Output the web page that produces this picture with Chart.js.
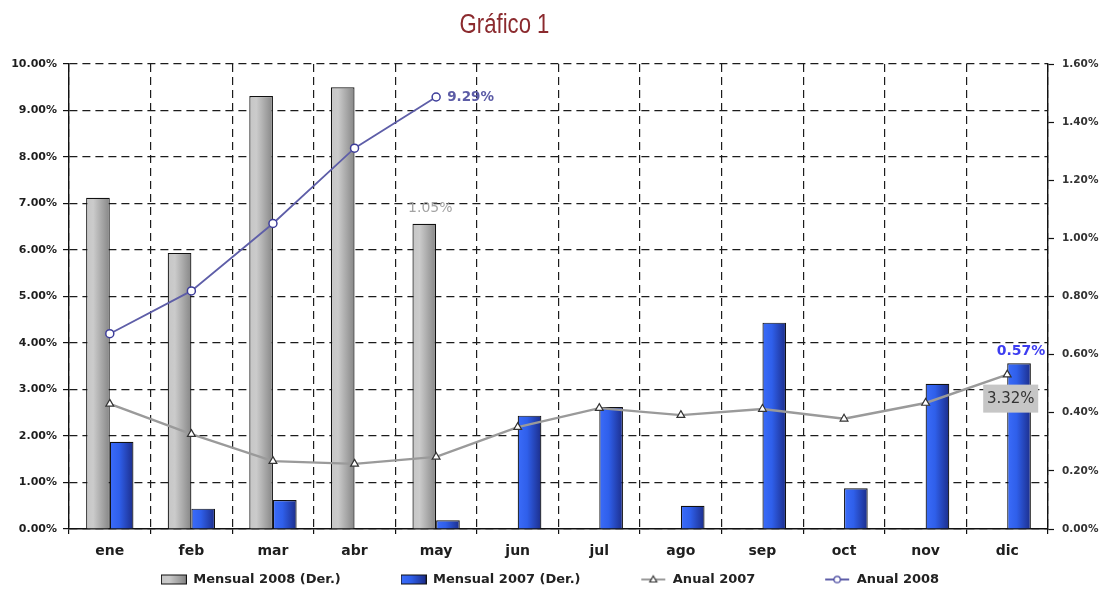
<!DOCTYPE html>
<html>
<head>
<meta charset="utf-8">
<script src="https://cdn.jsdelivr.net/npm/chart.js@4.4.1/dist/chart.umd.min.js"></script>
<style>
  html, body { margin: 0; padding: 0; background: #ffffff; }
  #wrap { position: relative; width: 1100px; height: 590px; }
  #c { position: absolute; left: 0; top: 0; }
  #title {
    position: absolute; left: 0; top: 6px; width: 1009px;
    text-align: center; line-height: 36px;
    font-family: "Liberation Sans Narrow", "Arial Narrow", sans-serif;
    font-size: 27px; color: #8b2a2e;
  }
</style>
</head>
<body>
<div id="wrap">
  <canvas id="c" width="1100" height="590"></canvas>
  <div id="title">Gráfico 1</div>
</div>
<script>
// Months on the category axis
const months = ['ene', 'feb', 'mar', 'abr', 'may', 'jun', 'jul', 'ago', 'sep', 'oct', 'nov', 'dic'];

// Monthly inflation (right axis, %)
const mensual2008 = [1.14, 0.95, 1.49, 1.52, 1.05, null, null, null, null, null, null, null];
const mensual2007 = [0.30, 0.07, 0.10, 0.00, 0.03, 0.39, 0.42, 0.08, 0.71, 0.14, 0.50, 0.57];

// Twelve-month inflation (left axis, %)
const anual2007 = [2.69, 2.04, 1.46, 1.40, 1.55, 2.19, 2.60, 2.45, 2.58, 2.37, 2.71, 3.32];
const anual2008 = [4.20, 5.12, 6.57, 8.19, 9.29, null, null, null, null, null, null, null];

// Axis ranges and tick steps
const leftAxis = { min: 0, max: 10, step: 1 };
const rightAxis = { min: 0, max: 1.6, step: 0.2 };

// Series names in legend order
const seriesNames = ['Mensual 2008 (Der.)', 'Mensual 2007 (Der.)', 'Anual 2007', 'Anual 2008'];

const CAT_PCT = 0.58;
const FONT = '"DejaVu Sans", Verdana, sans-serif';
const pct = v => v.toFixed(2) + '%';

// Horizontal shading across each bar, side -1 = left bar of the pair, +1 = right bar
function barShade(stops, side) {
  return (ctx) => {
    const chart = ctx.chart;
    const area = chart.chartArea;
    if (!area || ctx.type !== 'data' || !chart.scales.x) return stops[0][1];
    const center = chart.scales.x.getPixelForValue(ctx.dataIndex);
    const w = (area.right - area.left) / months.length * CAT_PCT / 2;
    const x0 = side < 0 ? center - w : center;
    const g = chart.ctx.createLinearGradient(x0, 0, x0 + w, 0);
    stops.forEach(s => g.addColorStop(s[0], s[1]));
    return g;
  };
}
const grayStops = [[0, '#c6c6c6'], [0.3, '#cbcbcb'], [1, '#868686']];
const blueStops = [[0, '#3b6cfa'], [0.4, '#2f5fea'], [1, '#1c2d8a']];

// Small legend swatches
function swatch(draw) {
  const c = document.createElement('canvas');
  c.width = 26; c.height = 12;
  draw(c.getContext('2d'));
  return c;
}
function barSwatch(stops) {
  return swatch(g => {
    const gr = g.createLinearGradient(1, 0, 25, 0);
    stops.forEach(s => gr.addColorStop(s[0], s[1]));
    g.fillStyle = gr; g.fillRect(1, 2, 24, 8);
    g.strokeStyle = '#111'; g.lineWidth = 1; g.strokeRect(0.5, 1.5, 25, 9);
  });
}
function lineSwatch(color, marker, edge) {
  return swatch(g => {
    g.strokeStyle = color; g.lineWidth = 2;
    g.beginPath(); g.moveTo(1, 6); g.lineTo(25, 6); g.stroke();
    g.fillStyle = '#fff'; g.strokeStyle = edge; g.lineWidth = 1.2;
    g.beginPath();
    if (marker === 'triangle') { g.moveTo(13, 2.5); g.lineTo(16.5, 8.5); g.lineTo(9.5, 8.5); g.closePath(); }
    else { g.arc(13, 6, 3.2, 0, Math.PI * 2); }
    g.fill(); g.stroke();
  });
}
const legendIcons = [
  barSwatch(grayStops),
  barSwatch(blueStops),
  lineSwatch('#9a9a9a', 'triangle', '#333'),
  lineSwatch('#5e5ea8', 'circle', '#3d3d9a')
];
const legendGaps = [11, 11, 13, 0];

// Value tags next to selected marks
const valueTags = {
  id: 'valueTags',
  afterDatasetsDraw(chart) {
    const ctx = chart.ctx;
    const el = (ds, i) => chart.getDatasetMeta(ds).data[i];
    ctx.save();
    ctx.textBaseline = 'middle';

    const p08 = el(3, 4);
    ctx.font = 'bold 13.5px ' + FONT;
    ctx.fillStyle = '#5c5ca6';
    ctx.textAlign = 'left';
    ctx.fillText(pct(anual2008[4]), p08.x + 11, p08.y);

    const bMay = el(0, 4);
    ctx.font = '14px ' + FONT;
    ctx.fillStyle = '#a3a3a3';
    ctx.textAlign = 'center';
    ctx.fillText(pct(mensual2008[4]), bMay.x + 6, bMay.y - 15);

    const bDic = el(1, 11);
    ctx.font = 'bold 14px ' + FONT;
    ctx.fillStyle = '#3d3df0';
    ctx.fillText(pct(mensual2007[11]), bDic.x + 2, bDic.y - 12);

    const p07 = el(2, 11);
    ctx.fillStyle = '#c6c6c6';
    ctx.fillRect(p07.x - 24, p07.y + 10, 55, 28);
    ctx.font = '15px ' + FONT;
    ctx.fillStyle = '#333';
    ctx.fillText(pct(anual2007[11]), p07.x + 3.5, p07.y + 24.5);
    ctx.restore();
  }
};

const dash = [8, 5];
const gridColor = '#1c1c1c';

new Chart(document.getElementById('c'), {
  data: {
    labels: months,
    datasets: [
      {
        type: 'bar', label: seriesNames[0], data: mensual2008, yAxisID: 'yR', order: 2,
        backgroundColor: barShade(grayStops, -1), borderColor: '#111', borderWidth: 1.2,
        categoryPercentage: CAT_PCT, barPercentage: 1.0
      },
      {
        type: 'bar', label: seriesNames[1], data: mensual2007, yAxisID: 'yR', order: 2,
        backgroundColor: barShade(blueStops, 1), borderColor: '#111', borderWidth: 1.2,
        categoryPercentage: CAT_PCT, barPercentage: 1.0
      },
      {
        type: 'line', label: seriesNames[2], data: anual2007, yAxisID: 'yL', order: 1,
        borderColor: '#9a9a9a', borderWidth: 2.4, pointStyle: 'triangle', pointRadius: 4.5,
        pointBackgroundColor: '#ffffff', pointBorderColor: '#333', pointBorderWidth: 1.2,
        tension: 0, spanGaps: false
      },
      {
        type: 'line', label: seriesNames[3], data: anual2008, yAxisID: 'yL', order: 0,
        borderColor: '#5e5ea8', borderWidth: 1.8, pointStyle: 'circle', pointRadius: 4,
        pointBackgroundColor: '#ffffff', pointBorderColor: '#3d3d9a', pointBorderWidth: 1.5,
        tension: 0, spanGaps: false
      }
    ]
  },
  options: {
    responsive: false,
    animation: false,
    layout: { padding: { top: 64, left: 0, right: 0, bottom: 0 } },
    scales: {
      x: {
        type: 'category',
        offset: true,
        grid: { offset: true, color: gridColor, lineWidth: 1.2, drawTicks: true, tickLength: 5, tickColor: '#111', tickWidth: 1.2 },
        border: { display: true, color: '#111', width: 1.4, dash: dash },
        ticks: { color: '#1e1e1e', font: { family: FONT, size: 14, weight: 'bold' }, padding: 9 },
        afterFit: s => { s.height = 34; }
      },
      yL: {
        position: 'left',
        min: leftAxis.min, max: leftAxis.max,
        grid: { color: gridColor, lineWidth: 1.2, drawTicks: true, tickLength: 6, tickColor: '#111', tickWidth: 1.2 },
        border: { display: true, color: '#111', width: 1.4, dash: dash },
        ticks: {
          stepSize: leftAxis.step, color: '#1e1e1e', padding: 6,
          font: { family: FONT, size: 11, weight: 'bold' },
          callback: v => pct(v)
        },
        afterFit: s => { s.width = 69; }
      },
      yR: {
        position: 'right',
        min: rightAxis.min, max: rightAxis.max,
        grid: { drawOnChartArea: false, drawTicks: true, tickLength: 6, tickColor: '#111', tickWidth: 1.2 },
        border: { display: true, color: '#111', width: 1.4 },
        ticks: {
          stepSize: rightAxis.step, color: '#333', padding: 8,
          font: { family: FONT, size: 10.5, weight: 'bold' },
          callback: v => pct(v)
        },
        afterFit: s => { s.width = 52; }
      }
    },
    plugins: {
      title: { display: false },
      tooltip: { enabled: false },
      legend: {
        position: 'bottom',
        maxHeight: 27,
        labels: {
          usePointStyle: true,
          pointStyleWidth: 26,
          padding: 10,
          color: '#222',
          font: { family: FONT, size: 13, weight: 'bold' },
          generateLabels: () => seriesNames.map((name, i) => ({
            text: name + ' '.repeat(legendGaps[i]),
            pointStyle: legendIcons[i],
            datasetIndex: i,
            hidden: false,
            lineWidth: 0,
            fontColor: '#222'
          }))
        }
      }
    }
  },
  plugins: [valueTags]
});

// Narrow face for the heading when available, otherwise condense the regular face
(function () {
  const t = document.getElementById('title');
  const m = document.createElement('canvas').getContext('2d');
  m.font = '27px "Liberation Sans Narrow", monospace';
  const a = m.measureText('Gráfico 1').width;
  m.font = '27px monospace';
  const b = m.measureText('Gráfico 1').width;
  if (Math.abs(a - b) < 0.5) {
    t.style.fontFamily = '"Liberation Sans", Arial, sans-serif';
    t.style.transform = 'scaleX(0.82)';
  }
})();
</script>
</body>
</html>
